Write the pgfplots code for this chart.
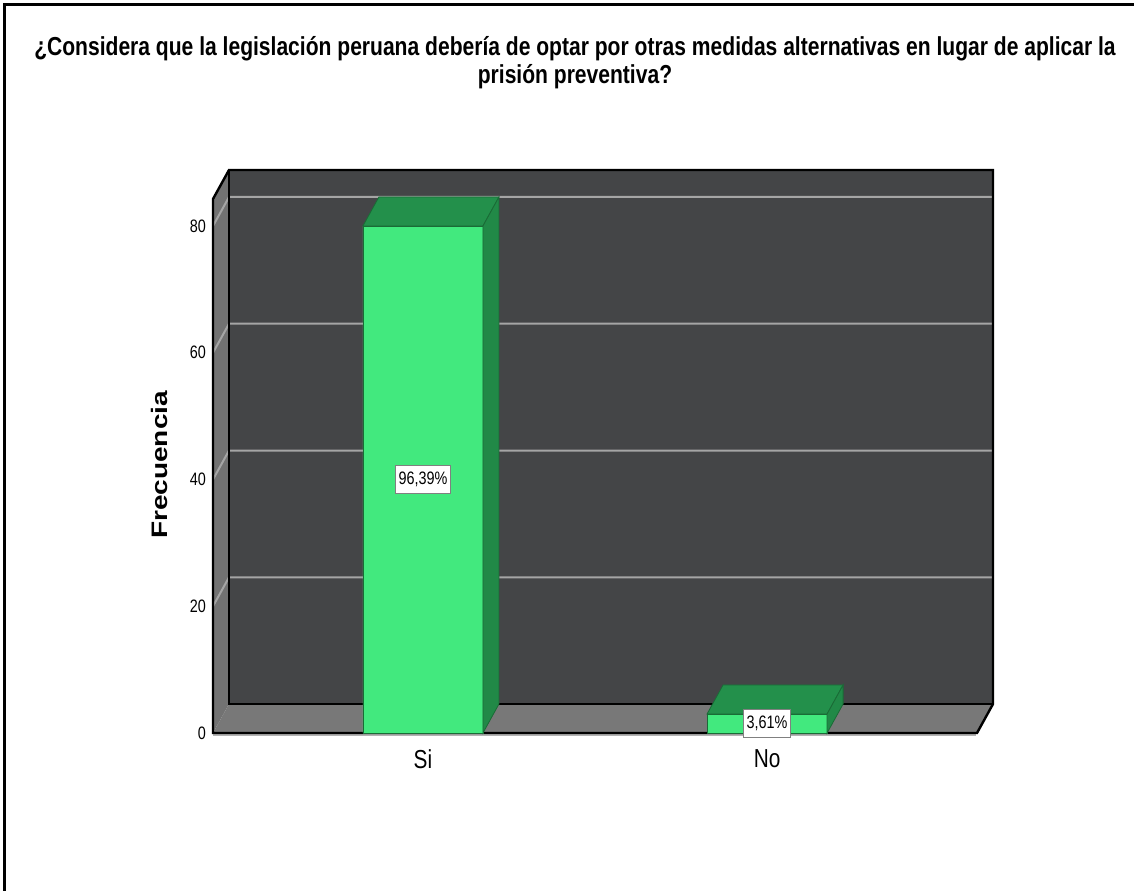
\documentclass[border=0pt]{standalone}
\usepackage{fontspec}
\setmainfont[FakeStretch=0.8]{Liberation Sans}
\newfontfamily\labfont{Liberation Sans}
\newfontfamily\titlefont[FakeStretch=0.81]{Liberation Sans}
\usepackage{pgfplots}
\pgfplotsset{compat=1.18}
\definecolor{wallback}{HTML}{444547}
\definecolor{wallside}{HTML}{727272}
\definecolor{floorc}{HTML}{787878}
\definecolor{gridc}{HTML}{A5A5A5}
\definecolor{barfront}{HTML}{42E97E}
\definecolor{bartop}{HTML}{23904B}
\definecolor{baredge}{HTML}{1A6B36}

\begin{document}
\begin{tikzpicture}
\useasboundingbox (-106.5pt,-78.5pt) rectangle (460.5pt,366.5pt);
% marco de la figura
\draw[line width=1.5pt] (-104pt,-80pt) -- (-104pt,364pt) -- (462pt,364pt);
\node[font=\titlefont\bfseries\fontsize{13}{14}\selectfont, align=center] at (181pt,335pt)
  {¿Considera que la legislación peruana debería de optar por otras medidas alternativas en lugar de aplicar la\\prisión preventiva?};

\begin{axis}[
    scale only axis,
    width=382pt, height=267pt,
    xmin=-0.61, xmax=1.61,
    ymin=0, ymax=84.26,
    clip=false,
    axis line style={draw=none},
    major tick length=0pt,
    xtick={0,1}, xticklabels={Si,No},
    ytick={0,20,40,60,80},
    /pgf/number format/assume math mode=true,
    yticklabel style={font=\fontsize{9}{10}\selectfont},
    xticklabel style={font=\fontsize{13}{15}\selectfont, yshift=-5pt},
    ylabel={\scalebox{1}[0.8]{\labfont\bfseries\fontsize{14}{16}\selectfont Frecuencia}},
    ylabel style={at={(axis description cs:-0.0694,0.502)}, anchor=center},
]
% paredes 3D
\addplot[fill=wallback, draw=none] coordinates {(-0.5635,4.576) (1.6565,4.576) (1.6565,88.836) (-0.5635,88.836)} -- cycle;
\addplot[fill=wallside, draw=none] coordinates {(-0.61,0) (-0.5635,4.576) (-0.5635,88.836) (-0.61,84.26)} -- cycle;
\addplot[fill=floorc, draw=none] coordinates {(-0.61,0) (1.61,0) (1.6565,4.576) (-0.5635,4.576)} -- cycle;
% rejilla
\addplot[gridc, line width=1pt] coordinates {(-0.61,20) (-0.5635,24.576) (1.6565,24.576)};
\addplot[gridc, line width=1pt] coordinates {(-0.61,40) (-0.5635,44.576) (1.6565,44.576)};
\addplot[gridc, line width=1pt] coordinates {(-0.61,60) (-0.5635,64.576) (1.6565,64.576)};
\addplot[gridc, line width=1pt] coordinates {(-0.61,80) (-0.5635,84.576) (1.6565,84.576)};
% bordes
\addplot[black, line width=0.6pt] coordinates {(-0.5635,88.836) (-0.5635,4.576) (1.6565,4.576)};
\addplot[gray!60, line width=0.8pt] coordinates {(-0.61,-0.35) (1.607,-0.35)};
\addplot[black, line width=1.2pt] coordinates {(-0.61,0) (-0.61,84.26) (-0.5635,88.836) (1.6565,88.836) (1.6565,4.576) (1.61,0)} -- cycle;
% barras
\addplot[ybar, bar width=0.3488, fill=barfront, draw=baredge, line width=0.4pt] coordinates {(0,80) (1,3)};
\addplot[fill=bartop, draw=baredge, line width=0.4pt] coordinates {(-0.1744,80) (0.1744,80) (0.2209,84.576) (-0.1279,84.576)} -- cycle;
\addplot[fill=bartop!95!black, draw=baredge, line width=0.4pt] coordinates {(0.1744,0) (0.2209,4.576) (0.2209,84.576) (0.1744,80)} -- cycle;
\addplot[fill=bartop, draw=baredge, line width=0.4pt] coordinates {(0.8256,3) (1.1744,3) (1.2209,7.576) (0.8721,7.576)} -- cycle;
\addplot[fill=bartop!95!black, draw=baredge, line width=0.4pt] coordinates {(1.1744,0) (1.2209,4.576) (1.2209,7.576) (1.1744,3)} -- cycle;
% etiquetas de porcentaje
\addplot[draw=none, mark=none, nodes near coords, point meta=explicit symbolic,
    nodes near coords align={center},
    every node near coord/.append style={anchor=center, fill=white, draw=gray, line width=0.6pt,
      inner xsep=1.5pt, inner ysep=3.2pt, font=\fontsize{9}{10}\selectfont}]
  coordinates {(0,40) [96,39\%] (1,1.5) [3,61\%]};
\end{axis}
\end{tikzpicture}
\end{document}
